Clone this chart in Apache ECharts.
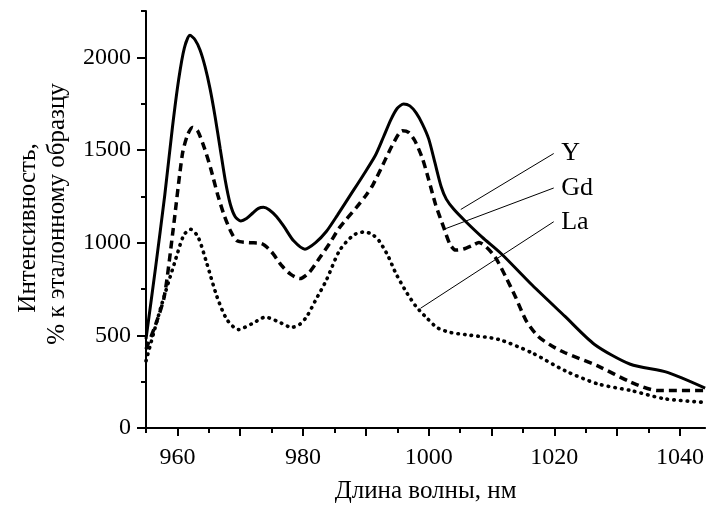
<!DOCTYPE html>
<html>
<head>
<meta charset="utf-8">
<script src="https://cdn.jsdelivr.net/npm/echarts@6/dist/echarts.min.js"></script>
<style>html,body{margin:0;padding:0;background:#fff}#c{width:707px;height:509px}</style>
</head>
<body>
<div id="c"></div>
<script>
// ---- data ----
const yX = [955, 956.5, 958, 959.2, 960.2, 961.1, 962, 962.8, 963.6, 964.4, 965.2, 966, 966.8, 967.6, 968.4, 969.2, 970.1, 971, 972, 972.9, 973.7, 974.6, 975.8, 977, 978.5, 980.3, 982, 983.7, 985.5, 987.5, 989.5, 991.5, 992.8, 994, 995, 996, 997, 998, 999, 1000, 1001, 1002, 1002.8, 1004, 1005.8, 1008.5, 1011.6, 1016.5, 1021.7, 1026.4, 1032.1, 1038, 1044];
const yV = [480, 860, 1260, 1620, 1880, 2050, 2119, 2095, 2040, 1950, 1830, 1680, 1510, 1340, 1210, 1140, 1117, 1130, 1160, 1185, 1191, 1178, 1140, 1085, 1010, 965, 1000, 1060, 1150, 1255, 1360, 1470, 1570, 1665, 1725, 1748, 1738, 1700, 1640, 1560, 1430, 1300, 1235, 1180, 1117, 1030, 939, 770, 602, 451, 344, 300, 215];

const gdX = [955, 956.5, 957.9, 959.3, 960.8, 961.6, 962.4, 963.2, 964.3, 965.3, 966.4, 967.4, 968.5, 969.5, 971.5, 973.4, 975, 976.5, 978, 979.5, 981, 982.7, 984.3, 985.8, 988.5, 990, 991.1, 992.7, 994.2, 995.8, 996.8, 997.8, 999, 1000, 1001.1, 1002.4, 1003.4, 1004.3, 1005.5, 1007, 1008, 1009.2, 1010.6, 1012.2, 1013.8, 1015.5, 1017.4, 1019.5, 1021.7, 1026.9, 1032.2, 1036.4, 1044];
const gdV = [426, 555, 708, 1065, 1480, 1580, 1622, 1605, 1510, 1400, 1260, 1152, 1060, 1010, 1000, 995, 950, 880, 830, 806, 840, 921, 1000, 1081, 1190, 1255, 1311, 1420, 1525, 1604, 1595, 1550, 1454, 1340, 1205, 1081, 990, 960, 965, 985, 1001, 975, 921, 820, 708, 580, 495, 445, 406, 335, 247, 202, 202];

const laX = [955, 957.4, 959.5, 961, 962.1, 963.3, 964.7, 966.3, 967.9, 969.7, 972, 974, 976, 978.2, 979.5, 980.6, 982, 983.7, 985.8, 988, 989.8, 991, 992.1, 993.5, 994.8, 996.5, 998, 999.8, 1001.4, 1003.5, 1005.8, 1011.1, 1016.4, 1021.7, 1026.9, 1032.2, 1037.5, 1044];
const laV = [362, 655, 886, 1040, 1072, 1030, 886, 708, 584, 531, 565, 598, 575, 543, 560, 602, 690, 797, 957, 1040, 1058, 1045, 1010, 930, 832, 730, 655, 590, 540, 515, 504, 478, 406, 309, 238, 202, 158, 138];

const seriesNames = ['Y', 'Gd', 'La'];
// leader lines: [from x, from y] -> [to x, to y]
const leaderFrom = [[1005.1, 1179], [1002.4, 1072], [998.7, 646]];
const leaderTo = [[1019.9, 1481], [1019.9, 1295], [1019.9, 1113]];

const xMajorTicks = [960, 970, 980, 990, 1000, 1010, 1020, 1030, 1040];
const xMinorTicks = [955, 965, 975, 985, 995, 1005, 1015, 1025, 1035];
const xLabels = [960, 980, 1000, 1020, 1040];
const yMajorTicks = [0, 500, 1000, 1500, 2000];
const yMinorTicks = [250, 750, 1250, 1750, 2250];

const xTitle = 'Длина волны, нм';
const yTitle1 = 'Интенсивность,';
const yTitle2 = '% к эталонному образцу';

// ---- chart ----
const FONT = '"Liberation Serif", "Times New Roman", serif';
const zip = (xs, vs) => xs.map((x, i) => [x, vs[i]]);
const chart = echarts.init(document.getElementById('c'), null, {renderer: 'canvas'});

const lineStyles = [
  {color: '#000', width: 3, type: 'solid'},
  {color: '#000', width: 3.5, type: [8, 5]},
  {color: '#000', width: 3.6, type: [0.5, 6.2], cap: 'round'}
];
const data = [zip(yX, yV), zip(gdX, gdV), zip(laX, laV)];

const series = data.map((d, i) => ({
  name: seriesNames[i],
  type: 'line',
  data: d,
  smooth: 0.25,
  showSymbol: false,
  symbol: 'none',
  silent: true,
  lineStyle: lineStyles[i],
  markLine: {
    silent: true,
    symbol: ['none', 'none'],
    lineStyle: {color: '#000', width: 1, type: 'solid', cap: 'butt'},
    label: {show: false},
    data: [[{coord: leaderFrom[i]}, {coord: leaderTo[i]}]]
  },
  markPoint: {
    silent: true,
    symbol: 'circle',
    symbolSize: 1,
    itemStyle: {color: 'rgba(0,0,0,0)'},
    label: {show: true, position: 'right', distance: 7, formatter: seriesNames[i],
      fontFamily: FONT, fontSize: 26, color: '#000'},
    data: [{coord: leaderTo[i]}]
  }
}));

const axisLine = {show: true, lineStyle: {color: '#000', width: 2}};
const plain = v => String(v);

chart.setOption({
  animation: false,
  backgroundColor: '#fff',
  grid: {left: 146, right: 0, top: 11, bottom: 76},
  xAxis: [
    {
      type: 'value', min: 955, max: 1044, position: 'bottom',
      axisLine: axisLine,
      axisTick: {show: true, length: 8, customValues: xMajorTicks, lineStyle: {color: '#000', width: 2}},
      axisLabel: {show: true, customValues: xLabels, formatter: plain, margin: 18, fontFamily: FONT, fontSize: 24, color: '#000'},
      splitLine: {show: false},
      name: xTitle, nameLocation: 'middle', nameGap: 51,
      nameTextStyle: {fontFamily: FONT, fontSize: 25, color: '#000'}
    },
    {
      type: 'value', min: 955, max: 1044, position: 'bottom',
      axisLine: {show: false},
      axisTick: {show: true, length: 5, customValues: xMinorTicks, lineStyle: {color: '#000', width: 2}},
      axisLabel: {show: false},
      splitLine: {show: false}
    }
  ],
  yAxis: [
    {
      type: 'value', min: 0, max: 2250, position: 'left',
      axisLine: axisLine,
      axisTick: {show: true, length: 9, customValues: yMajorTicks, lineStyle: {color: '#000', width: 2}},
      axisLabel: {show: true, customValues: yMajorTicks, formatter: plain, margin: 15, fontFamily: FONT, fontSize: 24, color: '#000'},
      splitLine: {show: false}
    },
    {
      type: 'value', min: 0, max: 2250, position: 'left',
      axisLine: {show: false},
      axisTick: {show: true, length: 5, customValues: yMinorTicks, lineStyle: {color: '#000', width: 2}},
      axisLabel: {show: false},
      splitLine: {show: false}
    }
  ],
  graphic: [
    {type: 'text', x: 28, y: 228, rotation: Math.PI / 2,
      style: {text: yTitle1, font: '25px ' + FONT, fill: '#000', align: 'center', verticalAlign: 'middle'}},
    {type: 'text', x: 57, y: 214, rotation: Math.PI / 2,
      style: {text: yTitle2, font: '25px ' + FONT, fill: '#000', align: 'center', verticalAlign: 'middle'}}
  ],
  series: series
});
</script>
</body>
</html>
